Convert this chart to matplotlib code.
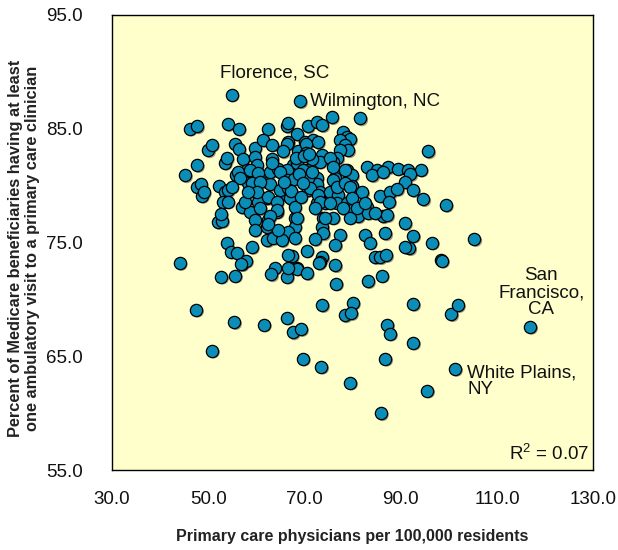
import matplotlib
matplotlib.use('Agg')

import matplotlib.pyplot as plt
import matplotlib.transforms as mtransforms

plt.rcParams['font.family'] = ['Liberation Sans', 'DejaVu Sans']

# physicians per 100,000 residents (x) / percent with a primary care visit (y)
physicians = [
    54.9, 69.1, 75.7, 81.6, 46.2, 47.7, 54.1, 56.4, 62.4, 66.4, 66.6, 70.7, 72.6, 73.7,
    68.5, 70.1, 66.6, 71.8, 72.8, 78.0, 78.9, 79.5, 77.4, 78.4, 79.1, 77.4, 76.8, 75.9,
    73.7, 73.2, 71.6, 68.7, 67.6, 70.5, 83.0, 85.1, 87.4, 89.5, 91.5, 78.9, 76.4, 95.7,
    94.2, 92.0, 90.9, 92.6, 94.7, 99.4, 90.9, 92.6, 96.5, 105.3, 91.8, 98.4, 84.1, 86.3,
    79.9, 72.6, 72.6, 79.9, 82.0, 85.7, 87.8, 89.3, 87.6, 67.0, 66.6, 66.4, 67.6, 70.7,
    73.2, 75.3, 77.0, 76.8, 78.9, 79.9, 81.1, 83.0, 83.2, 86.3, 87.2, 74.3, 72.6, 73.9,
    76.0, 79.5, 68.0, 68.0, 73.7, 73.9, 66.6, 68.0, 72.2, 77.4, 82.6, 83.6, 86.8, 90.9,
    76.4, 70.5, 67.4, 73.7, 73.2, 84.7, 85.7, 87.0, 76.4, 68.5, 83.2, 86.1, 76.6, 80.1,
    78.4, 79.7, 87.2, 87.8, 92.6, 100.5, 101.9, 116.9, 92.6, 86.8, 101.3, 79.5, 95.5, 85.9,
    98.6, 44.1, 52.7, 55.6, 57.0, 63.9, 63.1, 66.4, 68.5, 70.5, 73.0, 73.7, 47.5, 55.4,
    61.6, 66.4, 67.6, 69.3, 50.8, 69.7, 73.5, 45.2, 47.7, 48.7, 52.2, 53.5, 54.1, 53.1,
    54.1, 52.0, 52.9, 53.9, 54.7, 56.0, 57.9, 56.8, 59.1, 55.8, 57.0, 58.7, 57.7, 59.7,
    59.7, 62.2, 63.5, 65.3, 66.6, 66.6, 62.2, 62.4, 64.5, 64.3, 62.2, 60.4, 58.3, 60.8,
    62.8, 64.9, 62.8, 50.0, 50.8, 55.6, 56.4, 59.7, 61.4, 63.3, 66.4, 47.7, 53.5, 53.9,
    57.2, 58.1, 59.7, 60.1, 63.3, 65.5, 64.5, 66.4, 70.3, 56.2, 56.6, 58.7, 60.4, 59.1,
    60.8, 60.2, 58.3, 60.8, 62.4, 64.3, 64.3, 63.3, 64.9, 66.6, 66.6, 67.0, 68.0, 68.5,
    62.8, 62.4, 68.5, 69.7, 70.7, 71.2, 72.8, 73.2, 72.2, 70.3, 75.3, 75.9, 78.4, 75.9,
    76.8, 78.4, 79.5, 79.9, 81.0, 82.6, 78.0, 75.3, 74.3, 84.7, 54.9, 48.5, 49.1, 52.7,
    67.8, 68.9, 69.6, 67.3, 68.3, 69.9, 70.9, 65.8, 71.5, 69.2,
]
visit_pct = [
    88.0, 87.4, 86.0, 85.9, 85.0, 85.2, 85.4, 85.0, 85.0, 85.2, 85.5, 85.2, 85.6, 85.3,
    84.5, 83.8, 83.8, 84.0, 83.8, 84.7, 84.3, 84.1, 84.0, 83.6, 83.1, 83.1, 82.4, 82.1,
    82.7, 82.1, 82.3, 83.0, 81.8, 81.4, 81.6, 81.4, 81.6, 81.5, 81.4, 81.4, 80.7, 83.0,
    81.4, 81.0, 80.3, 79.6, 78.8, 78.3, 76.7, 75.6, 75.0, 75.3, 74.5, 73.5, 80.9, 81.2,
    80.9, 80.7, 80.1, 80.0, 79.4, 79.1, 79.4, 79.7, 78.6, 81.1, 80.1, 79.2, 78.7, 79.6,
    79.4, 79.4, 79.2, 78.5, 78.5, 77.9, 77.3, 78.1, 77.6, 77.3, 77.4, 78.5, 78.5, 77.2,
    77.2, 77.2, 77.2, 76.4, 76.4, 75.8, 75.9, 75.4, 75.3, 75.7, 75.7, 75.0, 75.8, 74.6,
    74.8, 74.3, 73.8, 73.7, 73.3, 73.7, 73.7, 73.9, 73.0, 72.8, 71.6, 72.1, 71.4, 69.7,
    68.6, 68.8, 67.8, 67.0, 69.6, 68.7, 69.5, 67.6, 66.2, 64.8, 63.9, 62.7, 62.0, 60.0,
    73.4, 73.2, 72.0, 72.1, 73.1, 72.8, 72.2, 72.0, 72.7, 72.3, 73.2, 69.5, 69.1, 68.0,
    67.8, 68.4, 67.1, 67.4, 65.5, 64.8, 64.1, 80.9, 79.9, 79.1, 80.0, 79.4, 79.6, 78.6,
    78.6, 76.8, 76.9, 75.0, 74.2, 74.1, 73.4, 73.1, 74.6, 80.9, 78.1, 77.7, 78.6, 77.0,
    76.1, 75.2, 75.4, 75.2, 72.8, 73.9, 76.4, 77.0, 76.1, 77.7, 78.9, 78.6, 80.2, 80.9,
    80.1, 79.6, 81.2, 83.1, 83.6, 83.7, 83.2, 83.3, 84.0, 83.6, 83.7, 81.8, 82.0, 82.4,
    82.3, 81.4, 82.5, 81.8, 82.3, 83.0, 81.5, 81.4, 83.7, 81.2, 80.7, 81.4, 81.1, 80.2,
    80.3, 79.4, 79.4, 78.0, 79.0, 78.6, 77.9, 82.0, 81.2, 80.5, 79.8, 78.9, 78.1, 77.2,
    77.3, 76.6, 82.0, 81.4, 80.7, 79.8, 79.2, 78.6, 78.0, 82.9, 82.4, 81.6, 81.4, 80.5,
    79.9, 80.2, 79.9, 78.9, 78.0, 78.5, 78.0, 78.5, 77.2, 77.6, 79.9, 80.1, 79.4, 77.5,
    80.6, 81.0, 80.2, 79.5, 82.4, 82.6, 82.8, 80.3, 81.2, 79.0,
]

x_ticks = [30, 50, 70, 90, 110, 130]
y_ticks = [55, 65, 75, 85, 95]

# labelled cities: (text, x, y, ha)
city_labels = [
    ('Florence, SC', 63.9, 89.9, 'center'),
    ('Wilmington, NC', 71.2, 87.4, 'left'),
    ('San\nFrancisco,\nCA', 119.2, 70.6, 'center'),
    ('White Plains,\nNY', 103.8, 62.8, 'left'),
]

fig = plt.figure(figsize=(6.18, 5.5), dpi=100)
ax = fig.add_axes([0.181, 0.145, 0.779, 0.828])
ax.set_facecolor('#FFFFCC')

# faint drop shadow behind each dot
shadow = mtransforms.offset_copy(ax.transData, fig=fig, x=1.2, y=-1.2, units='points')
ax.scatter(physicians, visit_pct, s=78, color='#9a9a80', edgecolors='none',
           transform=shadow, zorder=2)
ax.scatter(physicians, visit_pct, s=78, color='#0A8DB6', edgecolors='black',
           linewidths=0.9, zorder=3)

ax.set_xlim(30, 130)
ax.set_ylim(55, 95)
ax.set_xticks(x_ticks)
ax.set_yticks(y_ticks)
ax.set_xticklabels([f'{v:.1f}' for v in x_ticks])
ax.set_yticklabels([f'{v:.1f}' for v in y_ticks])
ax.tick_params(length=0, labelsize=13.5, colors='#111111')
ax.tick_params(axis='x', pad=15)
ax.tick_params(axis='y', pad=21)
for sp in ax.spines.values():
    sp.set_linewidth(1.0)

fig.text(352 / 618, 1 - 537 / 550, 'Primary care physicians per 100,000 residents',
         fontsize=11.5, fontweight='bold', color='#222222', ha='center', va='center')
fig.text(24 / 618, 1 - 248 / 550,
         'Percent of Medicare beneficiaries having at least\n'
         'one ambulatory visit to a primary care clinician',
         fontsize=11.8, fontweight='bold', color='#222222', rotation=90,
         ha='center', va='center', linespacing=1.15, multialignment='center')

for txt, x, y, ha in city_labels:
    ax.text(x, y, txt, fontsize=13.5, ha=ha, va='center', color='#111111',
            linespacing=1.0, zorder=4)

ax.text(129.3, 56.4, '$\\mathregular{R^2}$ = 0.07', fontsize=13.5, ha='right',
        va='center', color='#111111')

plt.savefig('out.png', dpi=100)
